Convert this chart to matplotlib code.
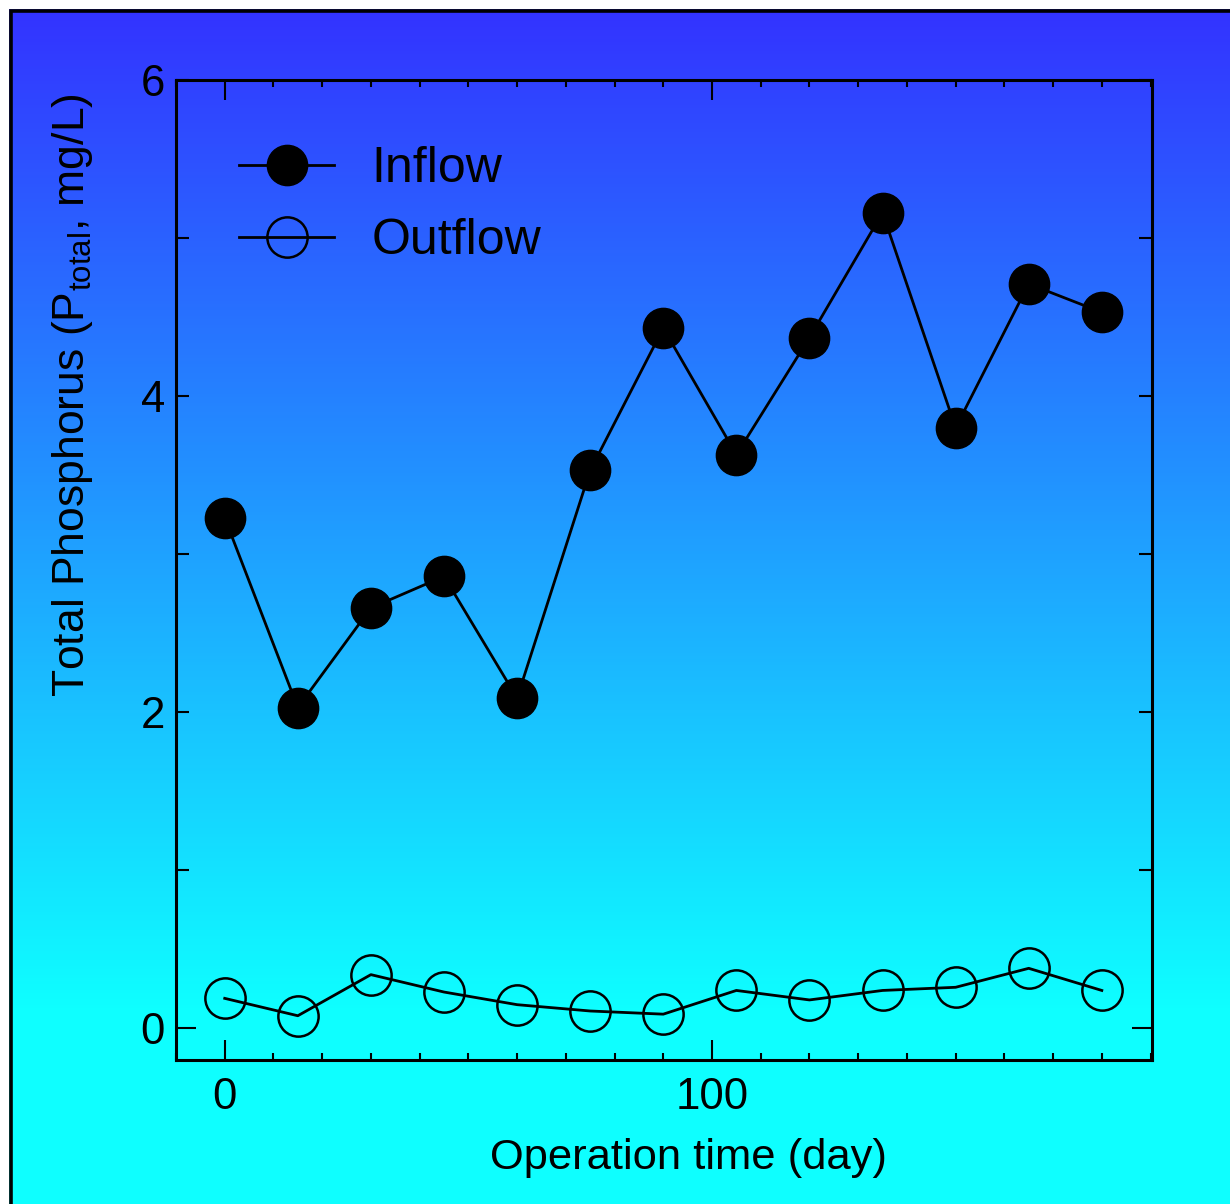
import numpy as np
import matplotlib
matplotlib.use("Agg")
import matplotlib.pyplot as plt
from matplotlib.patches import Rectangle
from matplotlib.ticker import FixedLocator, MultipleLocator

plt.rcParams['font.family'] = ['Liberation Sans', 'DejaVu Sans']

# ---- data ----
days = [0, 15, 30, 45, 60, 75, 90, 105, 120, 135, 150, 165, 180]
inflow = [3.23, 2.03, 2.66, 2.86, 2.09, 3.53, 4.43, 3.63, 4.37, 5.16, 3.80, 4.71, 4.53]
outflow = [0.19, 0.08, 0.34, 0.23, 0.15, 0.11, 0.09, 0.24, 0.18, 0.24, 0.26, 0.38, 0.24]
series_labels = ["Inflow", "Outflow"]
xlabel = "Operation time (day)"
ylabel = "Total Phosphorus (P$_{\\mathregular{total}}$, mg/L)"
x_major = [0, 100]
y_major = [0, 2, 4, 6]
y_minor = [1, 3, 5]

W, H = 1230, 1204
fig = plt.figure(figsize=(W / 100, H / 100), dpi=100)
fig.patch.set_facecolor('white')

# gradient background
bg = fig.add_axes([0, 0, 1, 1], zorder=-10)
bg.set_axis_off()
ys = np.linspace(0, 1, 400)
t = np.clip((ys * H - 10) / (1000), 0, 1)  # 0 at top
top = np.array([51, 51, 255]) / 255
bot = np.array([14, 255, 255]) / 255
grad = top[None, :] * (1 - t[:, None]) + bot[None, :] * t[:, None]
bg.imshow(grad[:, None, :], aspect='auto', extent=[0, 1, 0, 1], origin='upper')
bg.set_xlim(0, 1)
bg.set_ylim(0, 1)
# white margin top/left and black border
bg.add_patch(Rectangle((0, 1 - 9 / H), 1, 9 / H, facecolor='white', edgecolor='none'))
bg.add_patch(Rectangle((0, 0), 9 / W, 1, facecolor='white', edgecolor='none'))
bg.add_patch(Rectangle((10.5 / W, -0.05), 1.1, 1.05 - 10.5 / H, facecolor='none',
                       edgecolor='black', linewidth=2.6))

L, R, T, B = 176, 1152, 80, 1060
ax = fig.add_axes([L / W, (H - B) / H, (R - L) / W, (B - T) / H])
ax.set_facecolor('none')

ax.plot(days, inflow, color='black', lw=2.0, marker='o', ms=29, mfc='black',
        mec='black', label=series_labels[0])
ax.plot(days, outflow, color='black', lw=2.0, marker='o', ms=29, mfc='none',
        mec='black', mew=1.8, label=series_labels[1])

ax.set_xlim(-10, 190.3)
ax.set_ylim(-0.2, 6)

for s in ax.spines.values():
    s.set_linewidth(2.2)

ax.xaxis.set_major_locator(FixedLocator(x_major))
ax.xaxis.set_minor_locator(MultipleLocator(10))
ax.yaxis.set_major_locator(FixedLocator(y_major))
ax.yaxis.set_minor_locator(FixedLocator(y_minor))

ax.tick_params(axis='both', which='both', direction='in', top=True, right=True,
               width=1.5, labelsize=31.5)
ax.tick_params(axis='x', which='major', length=14.4, pad=12)
ax.tick_params(axis='x', which='minor', length=5)
ax.tick_params(axis='y', which='major', length=9.4, pad=8)
ax.tick_params(axis='y', which='minor', length=9.4)

# longer tick at y=0
tk = ax.yaxis.get_major_ticks()[0]
tk.tick1line.set_markersize(14.4)
tk.tick2line.set_markersize(14.4)

ax.set_xlabel(xlabel, fontsize=31.3)
ax.xaxis.set_label_coords((688 - L) / (R - L), (B - 1158) / (B - T))
ax.xaxis.label.set_va('center')
ax.set_ylabel(ylabel, fontsize=32)
ax.yaxis.set_label_coords((73 - L) / (R - L), (B - 395) / (B - T))
ax.yaxis.label.set_va('center')

leg = ax.legend(loc='upper left', bbox_to_anchor=((239 - L) / (R - L), (B - 146) / (B - T)),
                frameon=False, fontsize=36, handlelength=1.9, handletextpad=0.75,
                labelspacing=0.52, borderpad=0, borderaxespad=0, numpoints=1)

fig.savefig('out.png', dpi=100)
